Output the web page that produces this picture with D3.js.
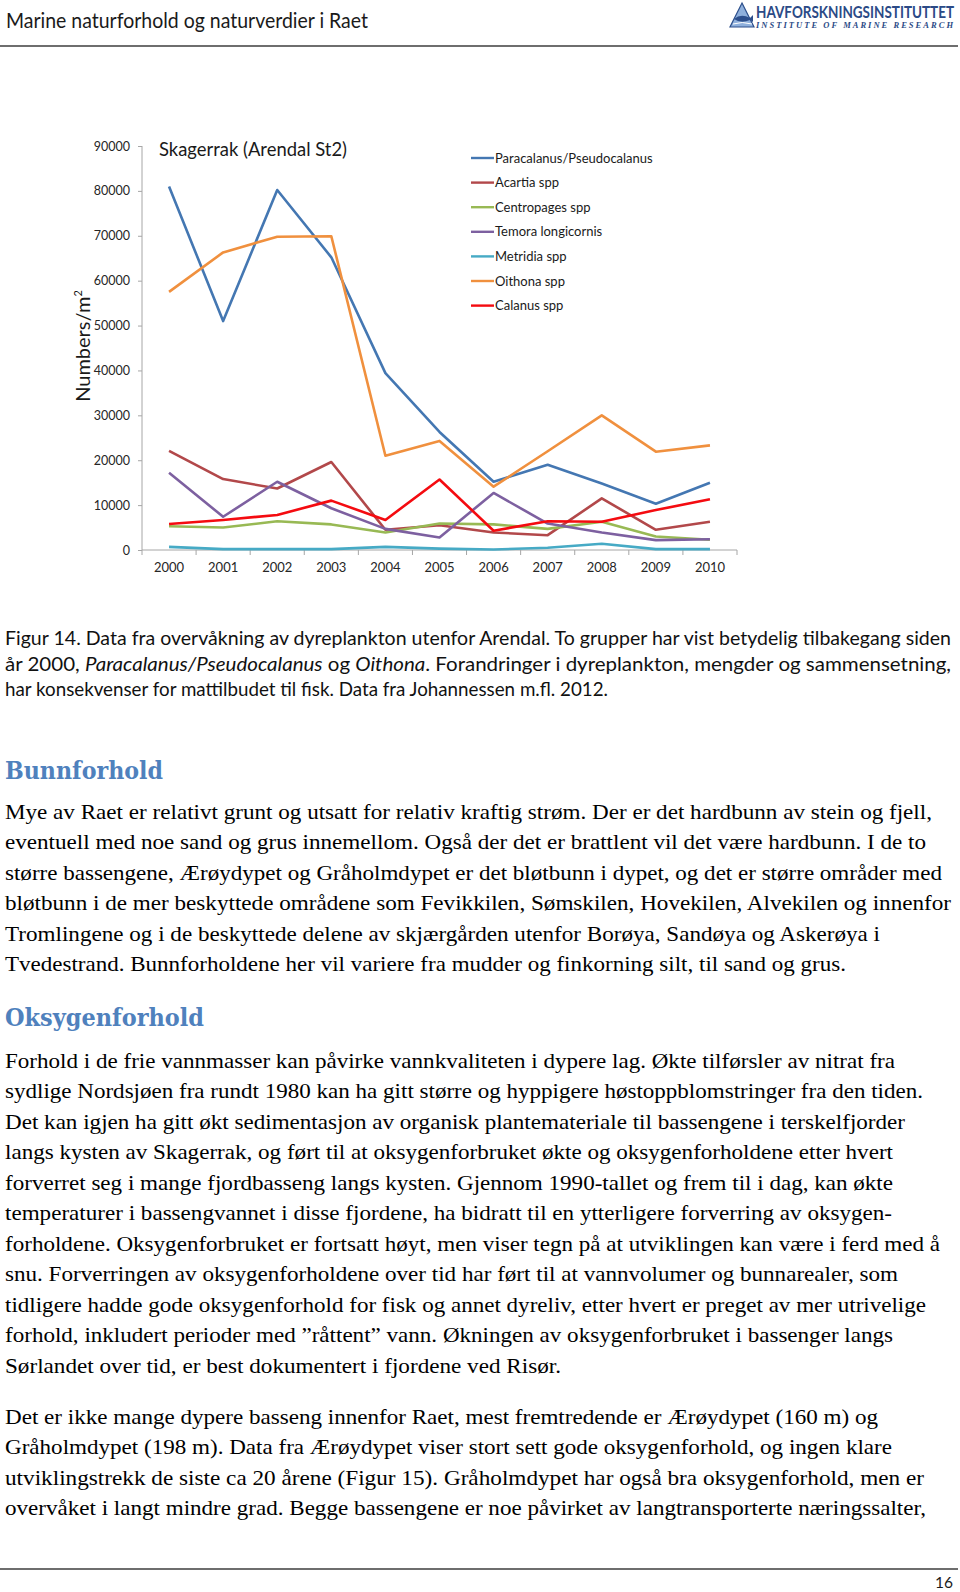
<!DOCTYPE html>
<html><head><meta charset="utf-8">
<script src="https://cdn.jsdelivr.net/npm/d3@7"></script>
<style>body{margin:0;background:#fff}svg{display:block}</style>
</head><body>
<svg id="page" width="960" height="1592"></svg>
<script>
// ---- chart data ----
const years = ["2000","2001","2002","2003","2004","2005","2006","2007","2008","2009","2010"];
const paracalanus = [81000, 51000, 80200, 65200, 39400, 26300, 15200, 19000, 14800, 10300, 15000];
const acartia     = [22100, 15800, 13700, 19600, 4500, 5500, 3900, 3300, 11500, 4500, 6300];
const centropages = [5300, 5000, 6400, 5700, 3900, 5900, 5700, 4700, 6300, 3000, 2300];
const temora      = [17200, 7400, 15200, 9300, 4700, 2800, 12700, 5900, 3900, 2200, 2400];
const metridia    = [700, 200, 200, 200, 700, 300, 100, 500, 1400, 200, 200];
const oithona     = [57500, 66300, 69800, 69900, 21000, 24300, 14100, 22000, 30000, 21900, 23300];
const calanus     = [5800, 6700, 7800, 11000, 6700, 15700, 4300, 6400, 6300, 8900, 11300];
const seriesNames = ["Paracalanus/Pseudocalanus","Acartia spp","Centropages spp","Temora longicornis","Metridia spp","Oithona spp","Calanus spp"];
const seriesColors = ["#4477B2","#B2484A","#98B954","#7D60A0","#46AAC5","#F0903E","#F40B10"];
const yTicks = [0,10000,20000,30000,40000,50000,60000,70000,80000,90000];
const chartTitle = "Skagerrak (Arendal St2)";

// ---- page text ----
const headerTitle = "Marine naturforhold og naturverdier i Raet";
const caption1 = "Figur 14. Data fra overvåkning av dyreplankton utenfor Arendal. To grupper har vist betydelig tilbakegang siden";
const caption2 = [["år 2000, ",false],["Paracalanus/Pseudocalanus",true],[" og ",false],["Oithona",true],[". Forandringer i dyreplankton, mengder og sammensetning,",false]];
const caption3 = "har konsekvenser for mattilbudet til fisk. Data fra Johannessen m.fl. 2012.";
const heading1 = "Bunnforhold";
const body1 = [
 ["Mye av Raet er relativt grunt og utsatt for relativ kraftig strøm. Der er det hardbunn av stein og fjell,",927],
 ["eventuell med noe sand og grus innemellom. Også der det er brattlent vil det være hardbunn. I de to",921],
 ["større bassengene, Ærøydypet og Gråholmdypet er det bløtbunn i dypet, og det er større områder med",937],
 ["bløtbunn i de mer beskyttede områdene som Fevikkilen, Sømskilen, Hovekilen, Alvekilen og innenfor",946],
 ["Tromlingene og i de beskyttede delene av skjærgården utenfor Borøya, Sandøya og Askerøya i",875],
 ["Tvedestrand. Bunnforholdene her vil variere fra mudder og finkorning silt, til sand og grus.",841]
];
const heading2 = "Oksygenforhold";
const body2 = [
 ["Forhold i de frie vannmasser kan påvirke vannkvaliteten i dypere lag. Økte tilførsler av nitrat fra",890],
 ["sydlige Nordsjøen fra rundt 1980 kan ha gitt større og hyppigere høstoppblomstringer fra den tiden.",918],
 ["Det kan igjen ha gitt økt sedimentasjon av organisk plantemateriale til bassengene i terskelfjorder",900],
 ["langs kysten av Skagerrak, og ført til at oksygenforbruket økte og oksygenforholdene etter hvert",888],
 ["forverret seg i mange fjordbasseng langs kysten. Gjennom 1990-tallet og frem til i dag, kan økte",888],
 ["temperaturer i bassengvannet i disse fjordene, ha bidratt til en ytterligere forverring av oksygen-",887],
 ["forholdene. Oksygenforbruket er fortsatt høyt, men viser tegn på at utviklingen kan være i ferd med å",935],
 ["snu. Forverringen av oksygenforholdene over tid har ført til at vannvolumer og bunnarealer, som",893],
 ["tidligere hadde gode oksygenforhold for fisk og annet dyreliv, etter hvert er preget av mer utrivelige",921],
 ["forhold, inkludert perioder med \u201Dråttent\u201D vann. Økningen av oksygenforbruket i bassenger langs",888],
 ["Sørlandet over tid, er best dokumentert i fjordene ved Risør.",556]
];
const body3 = [
 ["Det er ikke mange dypere basseng innenfor Raet, mest fremtredende er Ærøydypet (160 m) og",873],
 ["Gråholmdypet (198 m). Data fra Ærøydypet viser stort sett gode oksygenforhold, og ingen klare",887],
 ["utviklingstrekk de siste ca 20 årene (Figur 15).  Gråholmdypet har også bra oksygenforhold, men er",919],
 ["overvåket i langt mindre grad. Begge bassengene er noe påvirket av langtransporterte næringssalter,",921]
];
const pageNumber = "16";

const svg = d3.select("#page");
svg.append("rect").attr("width",960).attr("height",1592).attr("fill","#fff");

// ---- header ----
svg.append("text").attr("x",6).attr("y",28).attr("font-family","Lato").attr("font-size",21)
  .attr("fill","#1a1a1a").attr("textLength",362).attr("lengthAdjust","spacingAndGlyphs").text(headerTitle);
svg.append("line").attr("x1",0).attr("x2",958).attr("y1",46).attr("y2",46).attr("stroke","#6e6e6e").attr("stroke-width",2);
// logo
const logo = svg.append("g");
logo.append("path").attr("d","M742,3 L754,27 L730,27 Z").attr("fill","#8fb0dc").attr("stroke","#2d4f8c").attr("stroke-width",1.2);
logo.append("path").attr("d","M734,19 Q741,13 750,18 L753,15 L753,22 L750,20 Q741,24 734,19 Z").attr("fill","#2d4f8c");
logo.append("path").attr("d","M733,24 Q742,21 752,24").attr("fill","none").attr("stroke","#fff").attr("stroke-width",1);
logo.append("text").attr("transform","translate(756,18) scale(1,1.4)").attr("font-family","Lato").attr("font-weight","bold")
  .attr("font-size",12).attr("fill","#2b4a86").attr("textLength",198).attr("lengthAdjust","spacingAndGlyphs").text("HAVFORSKNINGSINSTITUTTET");
logo.append("text").attr("x",756).attr("y",28).attr("font-family","Liberation Serif").attr("font-style","italic").attr("font-weight","bold")
  .attr("font-size",8.5).attr("fill","#2b4a86").attr("textLength",197).attr("lengthAdjust","spacing").text("INSTITUTE OF MARINE RESEARCH");

// ---- chart ----
const chart = svg.append("g").attr("font-family","Lato");
const x = d3.scaleBand().domain(years).range([142, 737]);
const y = d3.scaleLinear().domain([0, 90000]).range([550, 146]);
const cx = d => x(d) + x.bandwidth()/2;

const yAxis = chart.append("g").attr("transform","translate(142,0)")
  .call(d3.axisLeft(y).tickValues(yTicks).tickSize(4).tickPadding(8).tickFormat(d3.format("d")));
yAxis.select(".domain").attr("stroke","#a6a6a6").attr("d","M0,146V550");
yAxis.selectAll(".tick line").attr("stroke","#a6a6a6");
yAxis.selectAll(".tick text").attr("font-family","Lato").attr("font-size",12.5).attr("fill","#262626");

const xAxis = chart.append("g").attr("transform","translate(0,550)")
  .call(d3.axisBottom(x).tickSize(0).tickPadding(0));
xAxis.select(".domain").attr("stroke","#a6a6a6").attr("d","M142,0H737");
xAxis.selectAll(".tick text").attr("y",22).attr("dy",0).attr("font-family","Lato").attr("font-size",13).attr("fill","#262626");
xAxis.selectAll(".bound").data(years.map(d => x(d)).concat([x.range()[1]])).enter()
  .append("line").attr("class","bound").attr("x1",d=>d).attr("x2",d=>d).attr("y1",0).attr("y2",5).attr("stroke","#a6a6a6");

const seriesData = [paracalanus, acartia, centropages, temora, metridia, oithona, calanus];
const line = d3.line().x((d,i) => cx(years[i])).y(d => y(d));
seriesData.forEach((vals, i) => {
  chart.append("path").datum(vals).attr("d", line).attr("fill","none")
    .attr("stroke", seriesColors[i]).attr("stroke-width", 2.6).attr("stroke-linejoin","round");
});

chart.append("text").attr("x",159).attr("y",156).attr("font-size",19.5).attr("fill","#1a1a1a")
  .attr("textLength",188).attr("lengthAdjust","spacingAndGlyphs").text(chartTitle);

const yl = chart.append("text").attr("transform","translate(90,346) rotate(-90)").attr("text-anchor","middle")
  .attr("font-size",20).attr("fill","#1a1a1a");
yl.append("tspan").text("Numbers/m");
yl.append("tspan").attr("font-size",11).attr("dy",-8).text("2");

const legend = chart.append("g");
seriesNames.forEach((n, i) => {
  const ly = 158 + i*24.6;
  legend.append("line").attr("x1",471).attr("x2",494).attr("y1",ly).attr("y2",ly)
    .attr("stroke",seriesColors[i]).attr("stroke-width",2.4);
  legend.append("text").attr("x",495).attr("y",ly).attr("dy","0.36em").attr("font-size",13).attr("fill","#1a1a1a").text(n);
});

// ---- caption ----
const cap = svg.append("g").attr("font-family","Lato").attr("font-size",19).attr("fill","#111");
cap.append("text").attr("x",5).attr("y",645).attr("textLength",946).attr("lengthAdjust","spacingAndGlyphs").text(caption1);
const c2 = cap.append("text").attr("x",5).attr("y",670.5).attr("textLength",946).attr("lengthAdjust","spacingAndGlyphs");
caption2.forEach(([t,it]) => c2.append("tspan").attr("font-style", it ? "italic" : "normal").text(t));
cap.append("text").attr("x",5).attr("y",696).attr("textLength",603).attr("lengthAdjust","spacingAndGlyphs").text(caption3);

// ---- body ----
function heading(txt, yy, w) {
  svg.append("text").attr("x",5).attr("y",yy).attr("font-family","DejaVu Serif").attr("font-weight","bold")
    .attr("font-size",25).attr("fill","#4F81BD").attr("textLength",w).attr("lengthAdjust","spacingAndGlyphs").text(txt);
}
function para(lines, y0) {
  lines.forEach(([t,w], i) => {
    svg.append("text").attr("x",5).attr("y",y0 + i*30.45).attr("font-family","'Liberation Serif', 'Times New Roman', serif")
      .attr("font-size",21.5).attr("fill","#000").attr("textLength",w).attr("lengthAdjust","spacingAndGlyphs").text(t);
  });
}
heading(heading1, 779, 158);
para(body1, 819);
heading(heading2, 1026, 199);
para(body2, 1068);
para(body3, 1424);

svg.append("line").attr("x1",0).attr("x2",958).attr("y1",1569).attr("y2",1569).attr("stroke","#6e6e6e").attr("stroke-width",2);
svg.append("text").attr("x",953).attr("y",1588).attr("text-anchor","end").attr("font-family","Lato").attr("font-size",15.5).attr("fill","#1a1a1a").text(pageNumber);
</script>
</body></html>
